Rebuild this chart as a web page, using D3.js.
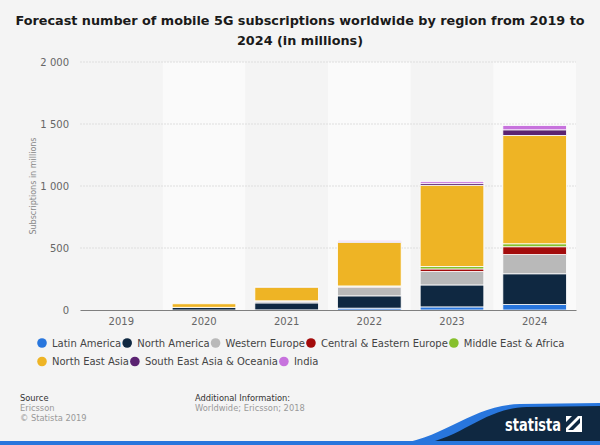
<!DOCTYPE html>
<html><head><meta charset="utf-8">
<script src="https://cdn.jsdelivr.net/npm/d3@7"></script>
<style>html,body{margin:0;padding:0;background:#f4f4f4;}svg{display:block;font-family:"DejaVu Sans",sans-serif;}</style>
</head><body>
<svg id="c" width="600" height="445"></svg>
<script>
const years = ["2019","2020","2021","2022","2023","2024"];
const seriesNames = ["Latin America","North America","Western Europe","Central & Eastern Europe","Middle East & Africa","North East Asia","South East Asia & Oceania","India"];
const latinAmerica = [0, 0, 1, 15, 25, 44];
const northAmerica = [0, 20, 56, 99, 177, 248];
const westernEurope = [0, 2, 15, 70, 109, 155];
const centralEasternEurope = [0, 0, 1, 5, 20, 63];
const middleEastAfrica = [0, 0, 1, 5, 20, 24];
const northEastAsia = [0, 28, 110, 350, 655, 874];
const southEastAsiaOceania = [0, 0, 1, 10, 16, 45];
const india = [0, 0, 0, 8, 15, 35];
const yTicks = [0, 500, 1000, 1500, 2000];
const colors = ["#2876dd","#0f2841","#b9b9b9","#a30b0b","#86c02c","#eeb425","#5b2372","#c772dd"];

const seriesValues = [latinAmerica, northAmerica, westernEurope, centralEasternEurope, middleEastAfrica, northEastAsia, southEastAsiaOceania, india];
const table = years.map((yr, i) => {
  const row = {year: yr};
  seriesNames.forEach((s, j) => row[s] = seriesValues[j][i]);
  return row;
});

const svg = d3.select("#c");
const W = 600, H = 445;
const pLeft = 80, pRight = 576, pTop = 62, pBottom = 310;

svg.append("rect").attr("width", W).attr("height", H).attr("fill", "#f4f4f4");

// Title
const title = svg.append("text").attr("text-anchor", "middle").attr("font-weight", "bold")
  .attr("font-size", 12.8).attr("fill", "#1a1a1a");
title.append("tspan").attr("x", W/2).attr("y", 25).text("Forecast number of mobile 5G subscriptions worldwide by region from 2019 to");
title.append("tspan").attr("x", W/2).attr("y", 45).text("2024 (in millions)");

const xBand = d3.scaleBand().domain(years).range([pLeft, pRight]).padding(0);
const x = d3.scaleBand().domain(years).range([pLeft, pRight]).paddingInner(0.23).paddingOuter(0.115);
const y = d3.scaleLinear().domain([0, 2000]).range([pBottom, pTop]);

// alternating bands
svg.append("g").selectAll("rect").data(years.filter((d, i) => i % 2 === 1)).join("rect")
  .attr("x", d => xBand(d)).attr("width", xBand.bandwidth())
  .attr("y", pTop).attr("height", pBottom - pTop).attr("fill", "#fafafa");

// grid
const fmt = d3.formatLocale({decimal: ".", thousands: " ", grouping: [3], currency: ["", ""]}).format(",");
svg.append("g").selectAll("line").data(yTicks.filter(d => d > 0)).join("line")
  .attr("x1", pLeft).attr("x2", pRight).attr("y1", d => y(d)).attr("y2", d => y(d))
  .attr("stroke", "#dedede").attr("stroke-width", 1).attr("stroke-dasharray", "2,1");

// y axis
const yAxis = svg.append("g").attr("transform", `translate(${pLeft},0)`)
  .call(d3.axisLeft(y).tickValues(yTicks).tickFormat(fmt).tickSize(0).tickPadding(11));
yAxis.select(".domain").remove();
yAxis.selectAll("text").attr("font-size", 10).attr("fill", "#666").attr("font-family", "DejaVu Sans");

svg.append("text").attr("transform", `translate(36,${(pTop+pBottom)/2}) rotate(-90)`)
  .attr("text-anchor", "middle").attr("font-size", 8).attr("fill", "#888").text("Subscriptions in millions");

// bars
const stack = d3.stack().keys(seriesNames)(table);
svg.append("g").selectAll("g").data(stack).join("g").attr("fill", (d, i) => colors[i])
  .selectAll("rect").data(d => d.filter(p => p[1] - p[0] > 0)).join("rect")
  .attr("x", d => x(d.data.year)).attr("width", x.bandwidth())
  .attr("y", d => y(d[1])).attr("height", d => y(d[0]) - y(d[1]))
  .attr("stroke", "#ffffff").attr("stroke-width", 0.8);

// x axis
const xAxis = svg.append("g").attr("transform", `translate(0,${pBottom})`)
  .call(d3.axisBottom(xBand).tickSize(0).tickPadding(8));
xAxis.select(".domain").attr("stroke", "#7f7f7f").attr("stroke-width", 1.2);
xAxis.selectAll("text").attr("font-size", 10).attr("fill", "#666").attr("font-family", "DejaVu Sans");

// legend
const lg = svg.append("g").attr("font-size", 10).attr("fill", "#444");
let lx = 42, ly = 343;
seriesNames.forEach((s, i) => {
  const t = lg.append("text").attr("y", ly + 3.5).text(s);
  const w = t.node().getComputedTextLength();
  if (lx + 10 + w > 592) { lx = 42; ly += 18.5; t.attr("y", ly + 3.5); }
  t.attr("x", lx + 10);
  lg.append("circle").attr("cx", lx).attr("cy", ly).attr("r", 4.8).attr("fill", colors[i]);
  lx += 10 + w + 6;
});

// footer
const ft = svg.append("g").attr("font-size", 8.3);
ft.append("text").attr("x", 20).attr("y", 401).attr("fill", "#333").text("Source");
ft.append("text").attr("x", 20).attr("y", 411).attr("fill", "#999").text("Ericsson");
ft.append("text").attr("x", 20).attr("y", 421).attr("fill", "#999").text("© Statista 2019");
ft.append("text").attr("x", 195).attr("y", 401).attr("fill", "#333").text("Additional Information:");
ft.append("text").attr("x", 195).attr("y", 411).attr("fill", "#999").text("Worldwide; Ericsson; 2018");

// logo
svg.append("path").attr("d", "M390,445 C445,440 470,405 520,404 L600,403 L600,445 Z").attr("fill", "#2876dd");
svg.append("path").attr("d", "M415,445 C462,440 482,408 527,407 L600,406 L600,445 Z").attr("fill", "#0f2841");
svg.append("rect").attr("x", 0).attr("y", 441).attr("width", 600).attr("height", 4).attr("fill", "#2876dd");
svg.append("text").attr("x", 505).attr("y", 431).attr("font-size", 17).attr("font-weight", "bold")
  .attr("textLength", 56).attr("lengthAdjust", "spacingAndGlyphs")
  .attr("fill", "#fff").text("statista");
svg.append("path").attr("d", "M566,416 L582,416 L582,432 L566,432 Z").attr("fill", "#fff");
svg.append("path").attr("d", "M568,430 L580,418 L580,423 L573,430 Z M566,428 L578,416 L572,416 L566,422 Z").attr("fill", "#0f2841");
</script>
</body></html>
